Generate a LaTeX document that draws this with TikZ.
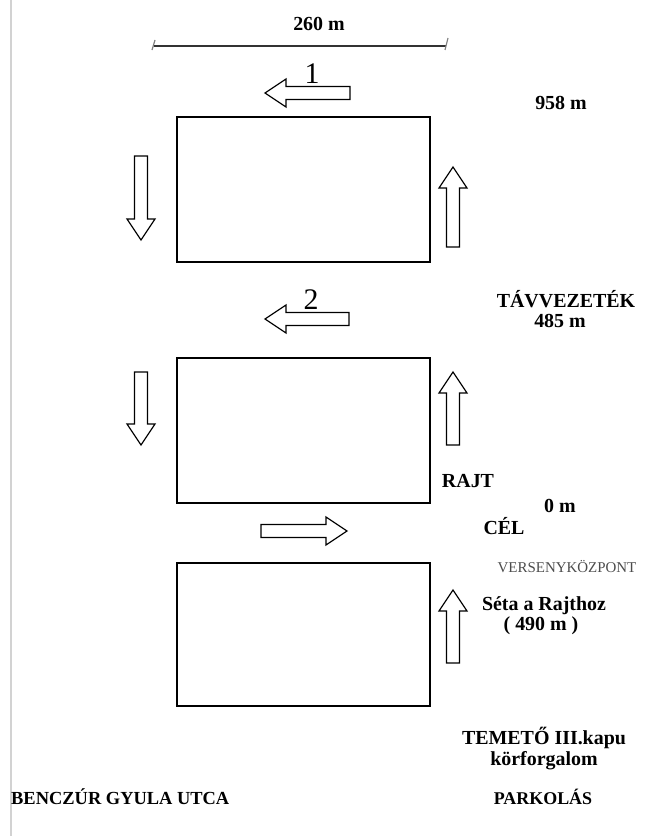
\documentclass[tikz,border=0pt]{standalone}
\usepackage{fontspec}
\setmainfont{Liberation Serif}
\usetikzlibrary{positioning}

\tikzset{
  lbl/.style={inner sep=0pt, anchor=base, font=\fontsize{20}{22}\selectfont\bfseries},
  lapno/.style={inner sep=0pt, anchor=base, font=\fontsize{30}{32}\selectfont},
  field/.style={draw=black, line width=1.5bp},
  blockline/.style={draw=black, line width=1.2bp, line join=miter},
}

% tail x, tail y, direction, length
\newcommand{\blockarrow}[4]{%
  \draw[blockline, shift={(#1,#2)}, rotate=#3]
    (0,-6.5) -- ({#4-21},-6.5) -- ({#4-21},-14) -- (#4,0)
    -- ({#4-21},14) -- ({#4-21},6.5) -- (0,6.5) -- cycle;}

\begin{document}
\begin{tikzpicture}[x=1bp,y=-1bp]
  \useasboundingbox (0,0) rectangle (651,836);
  \draw[gray!35, line width=2.5bp] (11,0) -- (11,836);

  % scale bar
  \coordinate (scaleL) at (154,46);
  \coordinate (scaleR) at (446,46);
  \draw[black!80, line width=1.2bp] (scaleL) -- (scaleR);
  \draw[gray, line width=1.2bp] ([xshift=-2bp,yshift=-4bp]scaleL) -- ([xshift=1bp,yshift=6bp]scaleL);
  \draw[gray, line width=1.2bp] ([xshift=-1bp,yshift=-4bp]scaleR) -- ([xshift=2bp,yshift=8bp]scaleR);
  \node[lbl] (scalelbl) at (319,30) {260 m};

  % the three loops
  \draw[field] (177,117) rectangle (430,262);
  \draw[field] (177,358) rectangle (430,503);
  \draw[field] (177,563) rectangle (430,706);

  % direction of running
  \blockarrow{350}{93}{180}{85}
  \blockarrow{349}{319}{180}{84}
  \blockarrow{261}{531}{0}{86}
  \blockarrow{141}{156}{-90}{84}
  \blockarrow{141}{372}{-90}{73}
  \blockarrow{453}{247}{90}{80}
  \blockarrow{453}{445}{90}{73}
  \blockarrow{453}{663}{90}{73}

  \node[lapno] (lapone) at (312,83) {1};
  \node[lapno] (laptwo) at (311,309) {2};

  \node[lbl] (full) at (561,109) {958 m};
  \node[lbl] (tavvez) at (566,307) {TÁVVEZETÉK};
  \node[lbl, below=7bp of tavvez, xshift=-6bp] (tavdist) {485 m};
  \node[lbl] (rajt) at (468,487) {RAJT};
  \node[lbl] (zero) at (560,512) {0 m};
  \node[lbl] (cel) at (504,534) {CÉL};
  \node[inner sep=0pt, anchor=base, font=\fontsize{15}{17}\selectfont, text=black!70] (kozpont) at (567,572) {VERSENYKÖZPONT};
  \node[lbl] (seta) at (544,610) {Séta a Rajthoz};
  \node[lbl, below=2bp of seta, xshift=-3bp] (setadist) {( 490 m )};
  \node[lbl] (temeto) at (544,744) {TEMETŐ III.kapu};
  \node[lbl, below=3bp of temeto] (korf) {körforgalom};
  \node[lbl, font=\fontsize{18}{20}\selectfont\bfseries] (parkolas) at (543,804) {PARKOLÁS};
  \node[lbl, anchor=base west, font=\fontsize{18.5}{20}\selectfont\bfseries] (benczur) at (11,804) {BENCZÚR GYULA UTCA};
\end{tikzpicture}
\end{document}
